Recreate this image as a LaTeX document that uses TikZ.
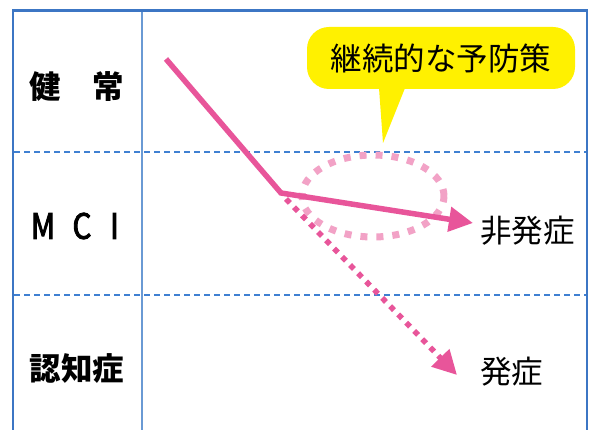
\documentclass[tikz,border=0pt]{standalone}
\usepackage{fontspec}
\setmainfont{Noto Sans CJK JP}
\newfontfamily\mcifont[FakeBold=2.5,FakeStretch=0.85]{Noto Sans CJK JP}
\usetikzlibrary{arrows.meta}
\definecolor{frameblue}{HTML}{3C76C4}
\definecolor{divblue}{HTML}{6A9AD4}
\definecolor{dashblue}{HTML}{3F80D2}
\definecolor{mypink}{HTML}{E8559A}
\definecolor{lightpink}{HTML}{F2A2C6}
\definecolor{calloutyellow}{HTML}{FFF100}
\tikzset{
  rowlabel/.style={font=\fontsize{31.5}{32}\selectfont\bfseries, inner sep=0pt, anchor=center},
  mcilabel/.style={font=\mcifont\fontsize{35}{36}\selectfont, inner sep=0pt, anchor=center},
  outlabel/.style={font=\fontsize{31.5}{32}\selectfont, inner sep=0pt, anchor=west},
  calloutbox/.style={fill=calloutyellow, rounded corners=22pt, minimum width=268pt, minimum height=62pt, inner sep=0pt, font=\fontsize{31.5}{32}\selectfont},
  rowsep/.style={dashblue, line width=1.1pt, dash pattern=on 6pt off 4pt},
  mainline/.style={mypink, line width=5.5pt, line join=miter},
  dotline/.style={mypink, line width=5.5pt, dash pattern=on 5.5pt off 6pt},
  bigtip/.style={-{Triangle[length=24pt,width=24pt]}}
}
\begin{document}
\begin{tikzpicture}[x=1pt,y=-1pt]
\useasboundingbox (0,0) rectangle (592,430);
\fill[white] (0,0) rectangle (592,430);
% frame
\draw[divblue, line width=1.8pt] (142,10.5) -- (142,432);
\draw[rowsep] (14,152) -- (586,152);
\draw[rowsep] (14,295) -- (586,295);
\draw[frameblue, line width=2.5pt] (13,432) -- (13,10.5) -- (587,10.5) -- (587,432);
% row labels
\node[rowlabel] (healthy) at (77,87) {健　常};
\node[mcilabel] (mci) at (75.5,226) {\makebox[39pt]{M}\makebox[39pt]{C}\makebox[26pt]{I}};
\node[rowlabel] (dementia) at (77,369) {認知症};
% callout
\node[calloutbox] (cb) at (441,58) {継続的な予防策};
\coordinate (ptipL) at (379,88);
\coordinate (ptipR) at (405,88);
\coordinate (ptip) at (383,143);
\fill[calloutyellow] (ptipL) -- (ptip) -- (ptipR) -- cycle;
% ellipse
\coordinate (ec) at (373,196);
\draw[lightpink, line width=7pt, dash pattern=on 7pt off 9pt] (ec) ellipse [x radius=71pt, y radius=41pt];
% path points
\coordinate (start) at (166,59);
\coordinate (corner) at (281,193);
\coordinate (tipA) at (473,223);
\coordinate (dstart) at (286,199);
\coordinate (tipB) at (457,375);
% outcome labels
\node[outlabel] (nonon) at (480,231) {非発症};
\node[outlabel] (onset) at (480,372) {発症};
% arrows
\draw[dotline, bigtip] (dstart) -- (tipB);
\draw[mainline, bigtip] (start) -- (corner) -- (tipA);
\end{tikzpicture}
\end{document}
